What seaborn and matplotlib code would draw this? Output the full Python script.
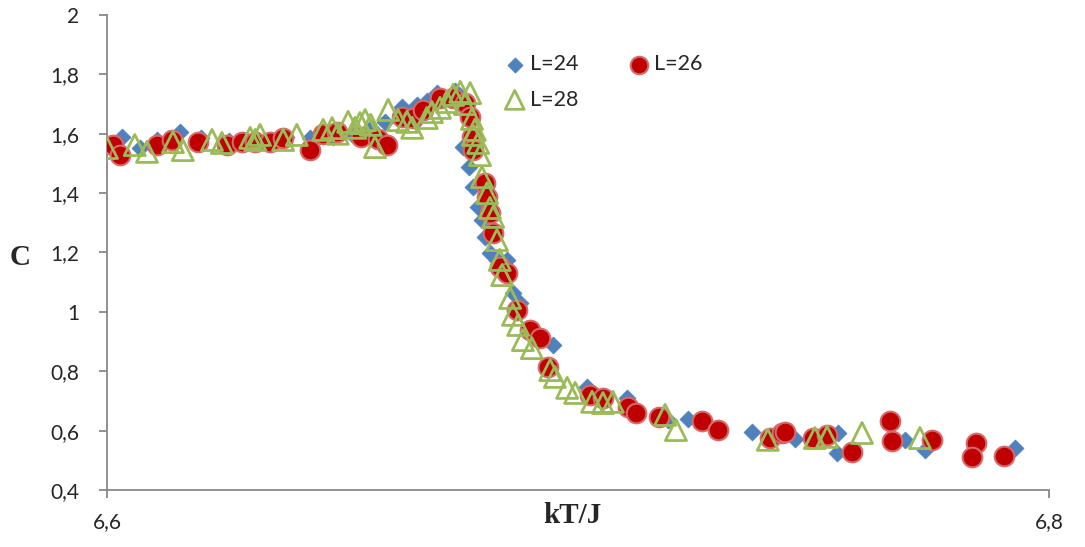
import matplotlib
matplotlib.use("Agg")
import matplotlib.pyplot as plt
from matplotlib.ticker import FuncFormatter
import seaborn as sns
import pandas as pd

# Specific heat C versus temperature kT/J for three lattice sizes
l24_t = [6.6032, 6.6070, 6.6106, 6.6155, 6.6200, 6.6260, 6.6320, 6.6380, 6.6430,
         6.6480, 6.6520, 6.6560, 6.6590, 6.6626, 6.6658, 6.6680, 6.6700, 6.6739,
         6.6756, 6.6768, 6.6778, 6.6787, 6.6796, 6.6803, 6.6813, 6.6828, 6.6849,
         6.6862, 6.6877, 6.6947, 6.7019, 6.7104, 6.7191, 6.7234, 6.7369, 6.7460,
         6.7550, 6.7552, 6.7694, 6.7737, 6.7928]
l24_c = [1.589, 1.552, 1.579, 1.606, 1.585, 1.575, 1.578, 1.590, 1.585,
         1.590, 1.600, 1.620, 1.640, 1.690, 1.697, 1.710, 1.737, 1.745,
         1.555, 1.488, 1.421, 1.353, 1.310, 1.252, 1.198, 1.175, 1.175,
         1.063, 1.030, 0.889, 0.747, 0.710, 0.636, 0.639, 0.595, 0.572,
         0.525, 0.592, 0.568, 0.535, 0.542]

l26_t = [6.6013, 6.6028, 6.6106, 6.6138, 6.6193, 6.6255, 6.6287, 6.6314, 6.6346,
         6.6374, 6.6431, 6.6459, 6.6488, 6.6539, 6.6575, 6.6594, 6.6626, 6.6650,
         6.6671, 6.6707, 6.6735, 6.6760, 6.6771, 6.6775, 6.6777, 6.6803, 6.6807,
         6.6813, 6.6820, 6.6834, 6.6849, 6.6870, 6.6898, 6.6919, 6.6936, 6.7025,
         6.7053, 6.7106, 6.7123, 6.7172, 6.7263, 6.7297, 6.7408, 6.7433, 6.7440,
         6.7499, 6.7529, 6.7582, 6.7662, 6.7667, 6.7752, 6.7845, 6.7837, 6.7904]
l26_c = [1.562, 1.528, 1.562, 1.579, 1.572, 1.562, 1.572, 1.572, 1.572,
         1.586, 1.545, 1.599, 1.606, 1.589, 1.582, 1.562, 1.656, 1.653,
         1.680, 1.721, 1.721, 1.704, 1.657, 1.589, 1.545, 1.434, 1.387,
         1.333, 1.266, 1.151, 1.131, 1.006, 0.939, 0.912, 0.814, 0.720,
         0.710, 0.680, 0.660, 0.646, 0.633, 0.602, 0.575, 0.592, 0.596,
         0.575, 0.585, 0.528, 0.633, 0.565, 0.569, 0.558, 0.511, 0.515]

l28_t = [6.6000, 6.6059, 6.6085, 6.6140, 6.6161, 6.6223, 6.6244, 6.6304, 6.6315,
         6.6325, 6.6374, 6.6403, 6.6459, 6.6478, 6.6490, 6.6512, 6.6527, 6.6537,
         6.6548, 6.6560, 6.6569, 6.6597, 6.6618, 6.6637, 6.6648, 6.6679, 6.6690,
         6.6707, 6.6722, 6.6735, 6.6750, 6.6771, 6.6760, 6.6775, 6.6777, 6.6781,
         6.6788, 6.6792, 6.6796, 6.6807, 6.6813, 6.6820, 6.6828, 6.6834, 6.6839,
         6.6856, 6.6862, 6.6873, 6.6883, 6.6902, 6.6941, 6.6951, 6.6977, 6.6994,
         6.7030, 6.7053, 6.7074, 6.7185, 6.7208, 6.7403, 6.7503, 6.7529, 6.7603,
         6.7726]
l28_c = [1.552, 1.562, 1.539, 1.572, 1.545, 1.579, 1.569, 1.586, 1.579,
         1.596, 1.579, 1.596, 1.613, 1.619, 1.600, 1.640, 1.620, 1.636,
         1.646, 1.630, 1.555, 1.680, 1.646, 1.640, 1.620, 1.653, 1.673,
         1.687, 1.707, 1.731, 1.741, 1.737, 1.700, 1.650, 1.596, 1.613,
         1.569, 1.528, 1.454, 1.400, 1.350, 1.320, 1.242, 1.175, 1.124,
         1.047, 0.990, 0.956, 0.905, 0.878, 0.804, 0.781, 0.744, 0.727,
         0.697, 0.693, 0.697, 0.653, 0.602, 0.569, 0.575, 0.579, 0.592,
         0.575]

series_labels = ["L=24", "L=26", "L=28"]
x_ticks = [6.6, 6.8]
y_ticks = [0.4, 0.6, 0.8, 1.0, 1.2, 1.4, 1.6, 1.8, 2.0]

df24 = pd.DataFrame({"kT": l24_t, "C": l24_c})
df26 = pd.DataFrame({"kT": l26_t, "C": l26_c})
df28 = pd.DataFrame({"kT": l28_t, "C": l28_c})

sns.set_style("white")
plt.rcParams["font.family"] = ["Lato", "DejaVu Sans"]

fig = plt.figure(figsize=(10.85, 5.47), dpi=100)
ax = fig.add_axes([0.0986, 0.1042, 0.8682, 0.8684])

blue = "#4F81BD"
red = "#C00000"
green = "#9BBB59"

sns.scatterplot(data=df24, x="kT", y="C", ax=ax, marker="D", s=75,
                color=blue, edgecolor=blue, linewidth=0.5, label=series_labels[0], zorder=2)
sns.scatterplot(data=df26, x="kT", y="C", ax=ax, marker="o", s=200,
                color=red, edgecolor="#D46A6A", linewidth=1.5, label=series_labels[1], zorder=3)
sns.scatterplot(data=df28, x="kT", y="C", ax=ax, marker="^", s=230,
                facecolors="none", edgecolor=green, linewidth=2.0,
                label=series_labels[2], zorder=4)

ax.set_xlim(6.6, 6.8)
ax.set_ylim(0.4, 2.0)
ax.set_xticks(x_ticks)
ax.set_yticks(y_ticks)
comma = FuncFormatter(lambda v, _: f"{v:g}".replace(".", ","))
ax.xaxis.set_major_formatter(comma)
ax.yaxis.set_major_formatter(comma)

for side in ("top", "right"):
    ax.spines[side].set_visible(False)
for side in ("left", "bottom"):
    ax.spines[side].set_color("#888888")
    ax.spines[side].set_linewidth(1.3)

ax.tick_params(axis="y", direction="out", length=6, width=1.3, color="#888888",
               labelsize=15, pad=14, left=True)
ax.tick_params(axis="x", direction="out", length=6, width=1.3, color="#888888",
               labelsize=15, pad=10, bottom=True)

ax.set_xlabel("kT/J", family="Liberation Serif", fontweight="bold", fontsize=21)
ax.set_ylabel("C", family="Liberation Serif", fontweight="bold", fontsize=21,
              rotation=0, ha="center", va="center")
ax.xaxis.set_label_coords(0.494, -0.025)
ax.yaxis.set_label_coords(-0.092, 0.49)

handles, labels = ax.get_legend_handles_labels()
order = [0, 2, 1]
leg = ax.legend([handles[i] for i in order], [labels[i] for i in order],
                ncol=2, frameon=False, fontsize=15.5, loc="upper left",
                bbox_to_anchor=(0.41, 0.935), handletextpad=0.1, columnspacing=2.2,
                labelspacing=0.7, handlelength=1.2, borderaxespad=0)
for h in leg.legend_handles:
    h.set_sizes([h.get_sizes()[0] * 0.8])

fig.savefig("out.png", dpi=100)
